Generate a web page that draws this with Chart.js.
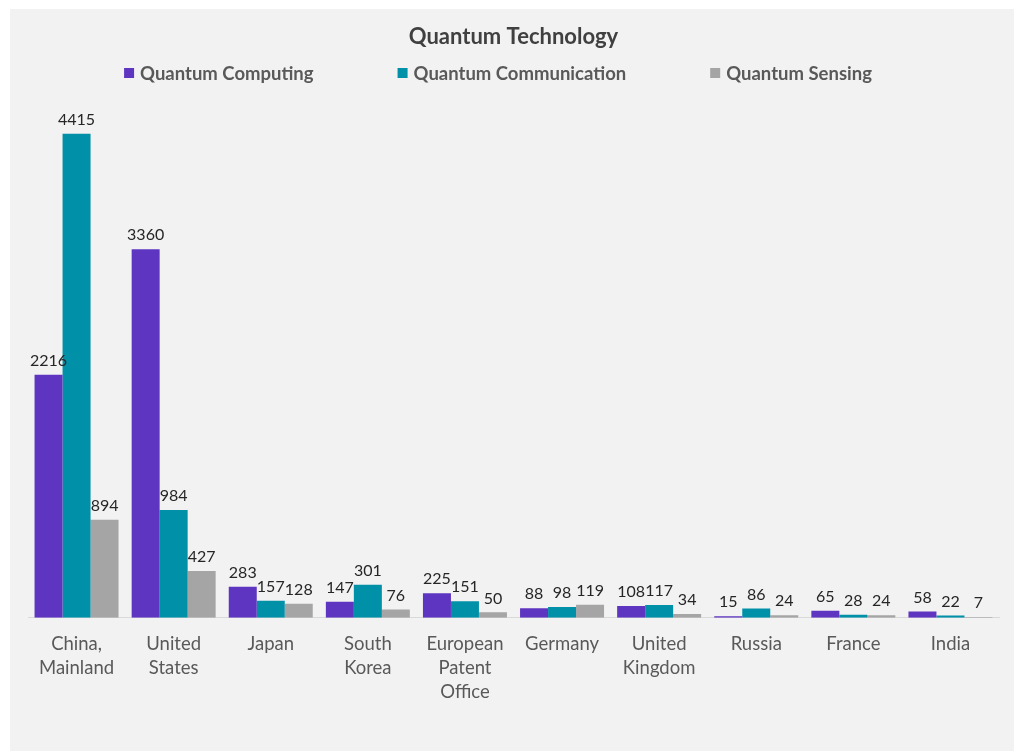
<!DOCTYPE html>
<html>
<head>
<meta charset="utf-8">
<script src="https://cdn.jsdelivr.net/npm/chart.js@4"></script>
<style>
  html, body { margin: 0; padding: 0; background: #ffffff; }
  #panel {
    position: absolute; left: 10px; top: 9px;
    width: 1004px; height: 742px;
    background: #f2f2f2;
  }
  canvas { display: block; }
</style>
</head>
<body>
<div id="panel"><canvas id="quantumChart" width="1004" height="742"></canvas></div>
<script>
// Patent counts per office
const countries = [
  ["China,", "Mainland"], ["United", "States"], "Japan", ["South", "Korea"],
  ["European", "Patent", "Office"], "Germany", ["United", "Kingdom"], "Russia", "France", "India"
];
const computing = [2216, 3360, 283, 147, 225, 88, 108, 15, 65, 58];
const communication = [4415, 984, 157, 301, 151, 98, 117, 86, 28, 22];
const sensing = [894, 427, 128, 76, 50, 119, 34, 24, 24, 7];
const seriesNames = ["Quantum Computing", "Quantum Communication", "Quantum Sensing"];

const FONT = "Lato, 'Open Sans', sans-serif";

// Value labels above each bar
const barLabels = {
  id: "barLabels",
  afterDatasetsDraw(chart) {
    const ctx = chart.ctx;
    ctx.save();
    ctx.font = "16px " + FONT;
    ctx.fillStyle = "#262626";
    ctx.textAlign = "center";
    ctx.textBaseline = "bottom";
    chart.data.datasets.forEach((ds, i) => {
      chart.getDatasetMeta(i).data.forEach((bar, j) => {
        ctx.fillText(ds.data[j], bar.x, bar.y - 6);
      });
    });
    ctx.restore();
  }
};

// Legend row: square + bold name, evenly spaced
const legendRow = {
  id: "legendRow",
  afterDraw(chart) {
    const ctx = chart.ctx;
    const gap = 84, box = 10, y = 64;
    ctx.save();
    ctx.font = "bold 18.5px " + FONT;
    ctx.textBaseline = "middle";
    const widths = chart.data.datasets.map(ds => box + 6 + ctx.measureText(ds.label).width);
    const total = widths.reduce((a, b) => a + b, 0) + gap * (widths.length - 1);
    let x = (chart.width - total) / 2 - 14;
    chart.data.datasets.forEach((ds, i) => {
      ctx.fillStyle = ds.backgroundColor;
      ctx.fillRect(x, y - box / 2, box, box);
      ctx.fillStyle = "#595959";
      ctx.fillText(ds.label, x + box + 6, y + 1);
      x += widths[i] + gap;
    });
    ctx.restore();
  }
};

new Chart(document.getElementById("quantumChart"), {
  type: "bar",
  data: {
    labels: countries,
    datasets: [
      { label: seriesNames[0], data: computing, backgroundColor: "#5e35c0" },
      { label: seriesNames[1], data: communication, backgroundColor: "#0090a8" },
      { label: seriesNames[2], data: sensing, backgroundColor: "#a5a5a5" }
    ]
  },
  options: {
    responsive: false,
    animation: false,
    layout: { padding: { left: 18, right: 15, top: 0, bottom: 41 } },
    datasets: { bar: { categoryPercentage: 0.865, barPercentage: 1 } },
    plugins: {
      legend: { display: false },
      tooltip: { enabled: false },
      title: {
        display: true,
        text: "Quantum Technology",
        color: "#404040",
        font: { family: FONT, size: 22, weight: "bold" },
        padding: { top: 15, bottom: 41 }
      }
    },
    scales: {
      x: {
        grid: { display: false },
        border: { display: true, color: "#d9d9d9", width: 1 },
        ticks: {
          color: "#595959",
          font: { family: FONT, size: 18.5, lineHeight: 1.3 },
          padding: 6,
          maxRotation: 0,
          autoSkip: false
        }
      },
      y: {
        display: false,
        min: 0,
        max: 4800
      }
    }
  },
  plugins: [barLabels, legendRow]
});
</script>
</body>
</html>
